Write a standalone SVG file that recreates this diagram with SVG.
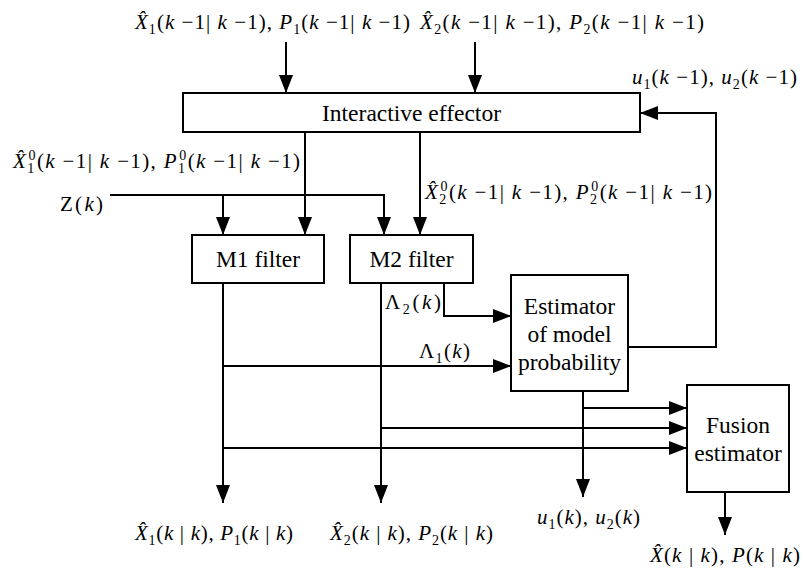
<svg xmlns="http://www.w3.org/2000/svg" width="804" height="574" viewBox="0 0 804 574">
<style>
.box{fill:#fff;stroke:#000;stroke-width:2}
.c{fill:none;stroke:#000;stroke-width:2;marker-end:url(#ah)}
.t{font-family:"Liberation Serif","Times New Roman",serif;font-size:23.5px;fill:#000;text-anchor:middle}
.m{font-family:"Liberation Serif","Times New Roman",serif;font-size:21px;fill:#000}
.i{font-style:italic}
.s{font-size:14px}
</style>
<defs>
<marker id="ah" markerUnits="userSpaceOnUse" markerWidth="18" markerHeight="14" refX="18" refY="7" orient="auto">
<path d="M0,0 L18,7 L0,14 z" fill="#000"/>
</marker>
</defs>
<rect width="804" height="574" fill="#fff"/>
<g id="connectors">
<path class="c" d="M286,42 V93"/>
<path class="c" d="M475,42 V93"/>
<path class="c" d="M628,347 H716 V113 H640"/>
<path class="c" d="M305,132 V235"/>
<path class="c" d="M420,132 V235"/>
<path class="c" d="M110,195 H384 V235"/>
<path class="c" d="M223,195 V235"/>
<path class="c" d="M223,283 V503"/>
<path class="c" d="M223,366 H511"/>
<path class="c" d="M223,448 H687"/>
<path class="c" d="M381,283 V503"/>
<path class="c" d="M381,428 H687"/>
<path class="c" d="M444,283 V316 H511"/>
<path class="c" d="M583,391 V497"/>
<path class="c" d="M583,408 H687"/>
<path class="c" d="M725,492 V535"/>
</g>
<g id="effector">
<rect class="box" x="183" y="93" width="457" height="39"/>
<text class="t" x="411.5" y="121">Interactive effector</text>
</g>
<g id="m1">
<rect class="box" x="192" y="235" width="132" height="48"/>
<text class="t" x="258" y="267">M1 filter</text>
</g>
<g id="m2">
<rect class="box" x="350" y="235" width="123" height="48"/>
<text class="t" x="411.5" y="267">M2 filter</text>
</g>
<g id="estimator">
<rect class="box" x="511" y="275" width="117" height="116"/>
<text class="t" x="569.5" y="314">Estimator</text>
<text class="t" x="569.5" y="342">of model</text>
<text class="t" x="569.5" y="370">probability</text>
</g>
<g id="fusion">
<rect class="box" x="687" y="385" width="102" height="107"/>
<text class="t" x="738" y="433">Fusion</text>
<text class="t" x="738" y="461">estimator</text>
</g>
<g id="labels">
<text class="m" x="135" y="29" textLength="275"><tspan class="i">X̂</tspan><tspan class="s" dy="5">1</tspan><tspan dy="-5">(</tspan><tspan class="i">k</tspan> −1| <tspan class="i">k</tspan> −1), <tspan class="i">P</tspan><tspan class="s" dy="5">1</tspan><tspan dy="-5">(</tspan><tspan class="i">k</tspan> −1| <tspan class="i">k</tspan> −1)</text>
<text class="m" x="420" y="29" textLength="284"><tspan class="i">X̂</tspan><tspan class="s" dy="5">2</tspan><tspan dy="-5">(</tspan><tspan class="i">k</tspan> −1| <tspan class="i">k</tspan> −1), <tspan class="i">P</tspan><tspan class="s" dy="5">2</tspan><tspan dy="-5">(</tspan><tspan class="i">k</tspan> −1| <tspan class="i">k</tspan> −1)</text>
<text class="m" x="632" y="84" textLength="165"><tspan class="i">u</tspan><tspan class="s" dy="5">1</tspan><tspan dy="-5">(</tspan><tspan class="i">k</tspan> −1), <tspan class="i">u</tspan><tspan class="s" dy="5">2</tspan><tspan dy="-5">(</tspan><tspan class="i">k</tspan> −1)</text>
<text class="m" x="13" y="168" textLength="287"><tspan class="i">X̂</tspan><tspan class="s" dy="5">1</tspan><tspan class="s" dx="-7" dy="-13">0</tspan><tspan dy="8">(</tspan><tspan class="i">k</tspan> −1| <tspan class="i">k</tspan> −1), <tspan class="i">P</tspan><tspan class="s" dy="5">1</tspan><tspan class="s" dx="-7" dy="-13">0</tspan><tspan dy="8">(</tspan><tspan class="i">k</tspan> −1| <tspan class="i">k</tspan> −1)</text>
<text class="m" x="60" y="211" textLength="43">Z(<tspan class="i">k</tspan>)</text>
<text class="m" x="425" y="199" textLength="287"><tspan class="i">X̂</tspan><tspan class="s" dy="5">2</tspan><tspan class="s" dx="-7" dy="-13">0</tspan><tspan dy="8">(</tspan><tspan class="i">k</tspan> −1| <tspan class="i">k</tspan> −1), <tspan class="i">P</tspan><tspan class="s" dy="5">2</tspan><tspan class="s" dx="-7" dy="-13">0</tspan><tspan dy="8">(</tspan><tspan class="i">k</tspan> −1| <tspan class="i">k</tspan> −1)</text>
<text class="m" x="385" y="309" textLength="56">Λ<tspan class="s" dy="5">2</tspan><tspan dy="-5">(</tspan><tspan class="i">k</tspan>)</text>
<text class="m" x="419" y="358" textLength="51">Λ<tspan class="s" dy="5">1</tspan><tspan dy="-5">(</tspan><tspan class="i">k</tspan>)</text>
<text class="m" x="135" y="540" textLength="158"><tspan class="i">X̂</tspan><tspan class="s" dy="5">1</tspan><tspan dy="-5">(</tspan><tspan class="i">k</tspan> | <tspan class="i">k</tspan>), <tspan class="i">P</tspan><tspan class="s" dy="5">1</tspan><tspan dy="-5">(</tspan><tspan class="i">k</tspan> | <tspan class="i">k</tspan>)</text>
<text class="m" x="330" y="540" textLength="163"><tspan class="i">X̂</tspan><tspan class="s" dy="5">2</tspan><tspan dy="-5">(</tspan><tspan class="i">k</tspan> | <tspan class="i">k</tspan>), <tspan class="i">P</tspan><tspan class="s" dy="5">2</tspan><tspan dy="-5">(</tspan><tspan class="i">k</tspan> | <tspan class="i">k</tspan>)</text>
<text class="m" x="537" y="524" textLength="103"><tspan class="i">u</tspan><tspan class="s" dy="5">1</tspan><tspan dy="-5">(</tspan><tspan class="i">k</tspan>), <tspan class="i">u</tspan><tspan class="s" dy="5">2</tspan><tspan dy="-5">(</tspan><tspan class="i">k</tspan>)</text>
<text class="m" x="650" y="562" textLength="150"><tspan class="i">X̂</tspan>(<tspan class="i">k</tspan> | <tspan class="i">k</tspan>), <tspan class="i">P</tspan>(<tspan class="i">k</tspan> | <tspan class="i">k</tspan>)</text>
</g>
</svg>
